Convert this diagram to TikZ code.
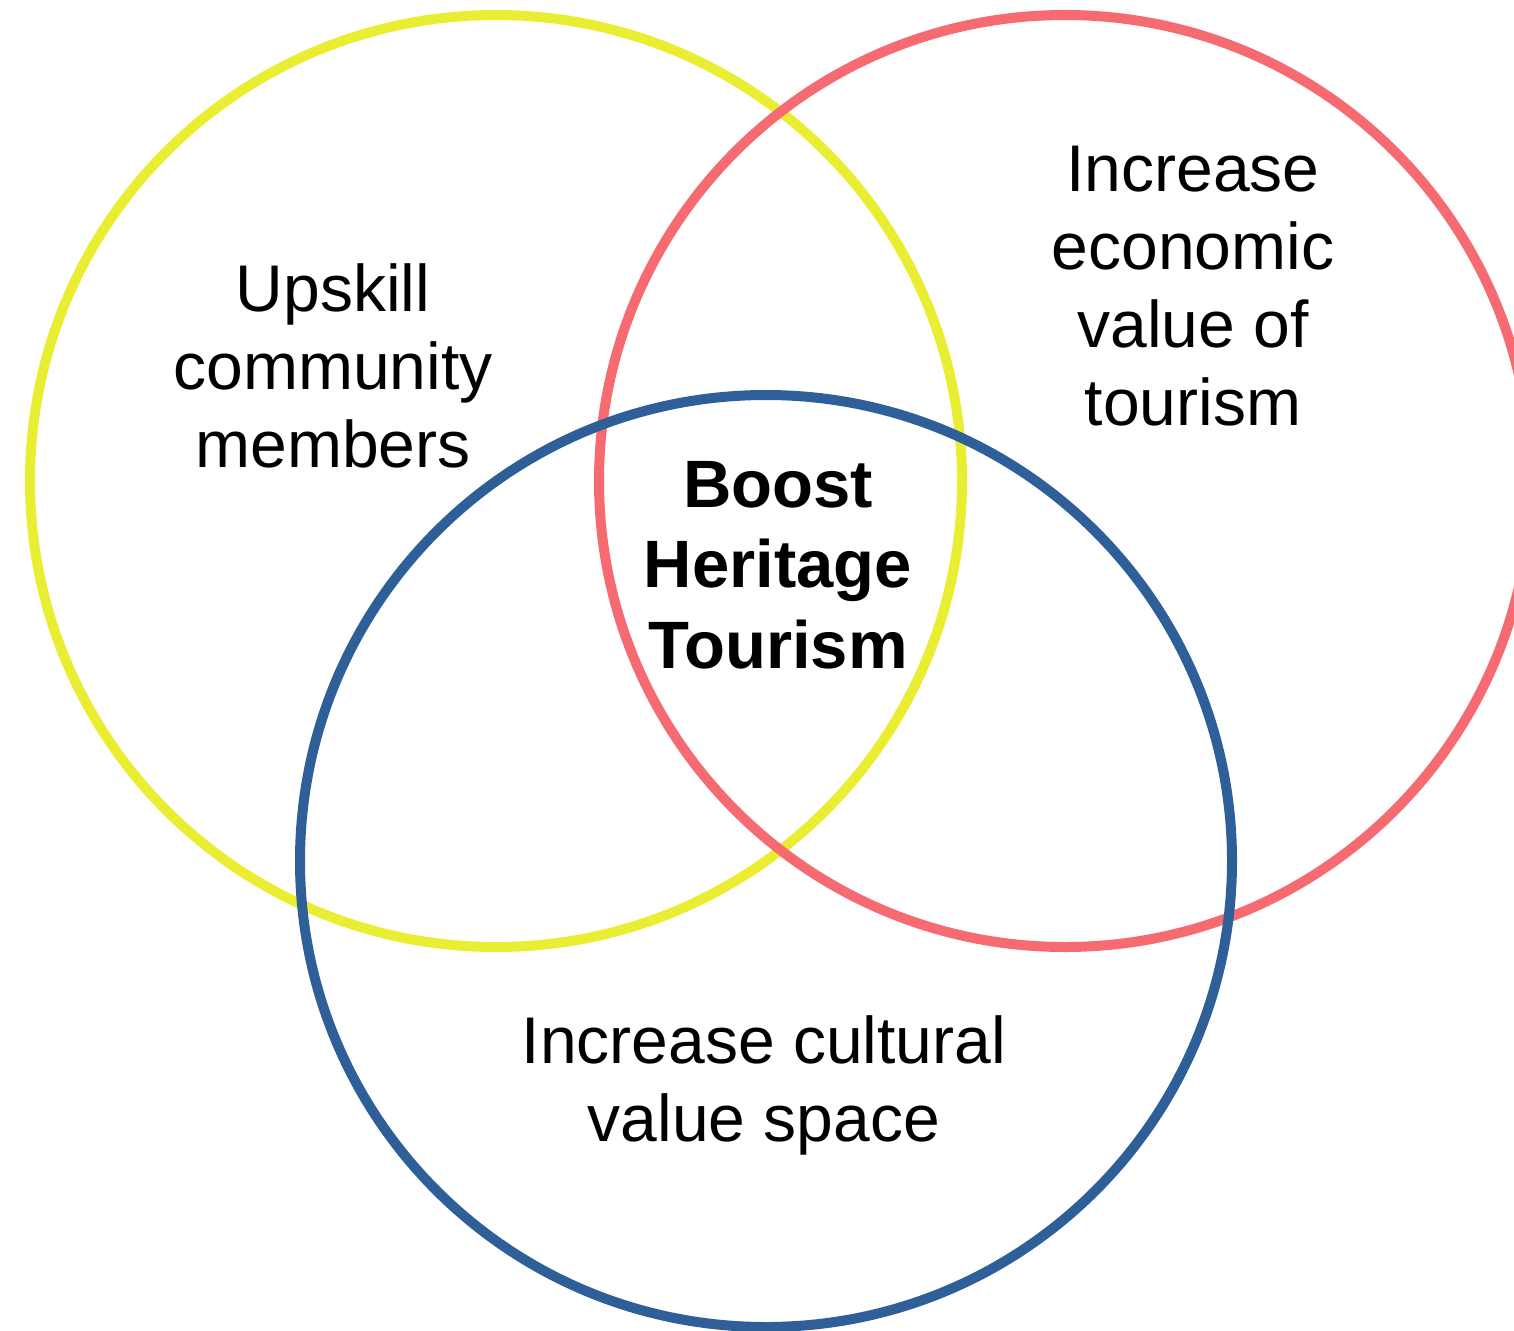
\documentclass[tikz,border=0pt]{standalone}
\usepackage{fontspec}
\setmainfont{Liberation Sans}
\definecolor{vyellow}{HTML}{E9EE32}
\definecolor{vred}{HTML}{F66B71}
\definecolor{vblue}{HTML}{2F5F98}
\begin{document}
\begin{tikzpicture}[x=1pt,y=-1pt,
  ring/.style={line width=10pt},
  label/.style={align=center,inner sep=0pt,anchor=base,font=\fontsize{66}{78}\selectfont},
  bold label/.style={label,font=\fontsize{67}{80.5}\selectfont\bfseries}]
\useasboundingbox (0,0) rectangle (1514,1330);
\clip (0,0) rectangle (1514,1330);
\draw[ring,vyellow] (496,481) circle[radius=466];
\draw[ring,vred] (1065,481) circle[radius=466];
\draw[ring,vblue] (766,861) circle[radius=466];
\node[label] (upskill) at (333,467) {Upskill\\community\\members};
\node[label] (econ) at (1193,425) {Increase\\economic\\value of\\tourism};
\node[label] (cult) at (764,1141) {Increase cultural\\value space};
\node[bold label] (boost) at (778,668) {Boost\\Heritage\\Tourism};
\end{tikzpicture}
\end{document}
